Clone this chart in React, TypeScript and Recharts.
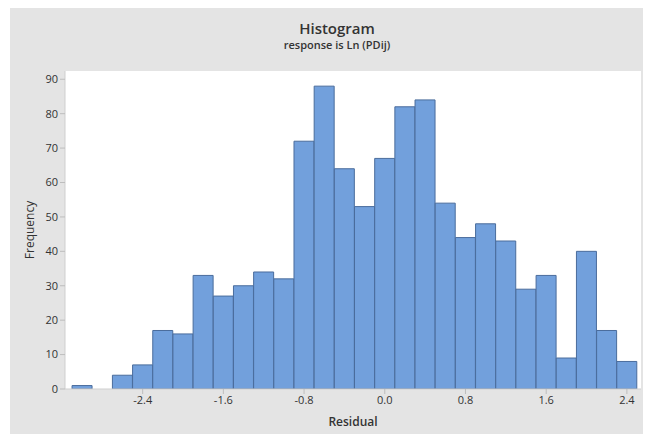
import React from "react";
import { Bar, BarChart, CartesianGrid, XAxis, YAxis } from "recharts";

const binMids = [
  -3.0, -2.8, -2.6, -2.4, -2.2, -2.0, -1.8, -1.6, -1.4, -1.2, -1.0, -0.8, -0.6, -0.4,
  -0.2, 0.0, 0.2, 0.4, 0.6, 0.8, 1.0, 1.2, 1.4, 1.6, 1.8, 2.0, 2.2, 2.4,
];
const frequencies = [
  1, 0, 4, 7, 17, 16, 33, 27, 30, 34, 32, 72, 88, 64,
  53, 67, 82, 84, 54, 44, 48, 43, 29, 33, 9, 40, 17, 8,
];
const xTicks = [-2.4, -1.6, -0.8, 0.0, 0.8, 1.6, 2.4];
const yTicks = [0, 10, 20, 30, 40, 50, 60, 70, 80, 90];

const data = binMids.map((mid, i) => ({ mid, count: frequencies[i] }));

const FONT = "'Open Sans', 'Noto Sans', sans-serif";

export default function App() {
  return (
    <div style={{ position: "relative", width: 651, height: 434, margin: "-8px 0 0 -8px", background: "#fff", fontFamily: FONT }}>
      <div style={{ position: "absolute", left: 10, top: 7, width: 641, height: 427, background: "#e4e4e4" }}>
        <div style={{ position: "absolute", left: 0, width: 654, top: 12, lineHeight: "18px", textAlign: "center", fontSize: 15, fontWeight: 600, color: "#333" }}>
          Histogram
        </div>
        <div style={{ position: "absolute", left: 0, width: 654, top: 31, lineHeight: "14px", textAlign: "center", fontSize: 11, fontWeight: 600, color: "#333" }}>
          response is Ln (PDij)
        </div>
        <BarChart
          width={641}
          height={427}
          data={data}
          margin={{ top: 64, right: 10, bottom: 0, left: 0 }}
          barCategoryGap={0}
          barGap={0}
        >
          <CartesianGrid fill="#ffffff" stroke="transparent" />
          <XAxis
            type="number"
            dataKey="mid"
            domain={[-3.17, 2.54]}
            ticks={xTicks}
            tickFormatter={(v: number) => v.toFixed(1)}
            allowDataOverflow
            tick={{ fontSize: 11, fill: "#333" }}
            axisLine={{ stroke: "#cfcfcf" }}
            tickLine={{ stroke: "#bdbdbd" }}
            tickSize={5}
            height={45}
            label={{ value: "Residual", position: "insideBottom", offset: 8, fontSize: 12, fontWeight: 600, fill: "#333" }}
          />
          <YAxis
            type="number"
            domain={[0, 92.4]}
            ticks={yTicks}
            allowDataOverflow
            tick={{ fontSize: 11, fill: "#333" }}
            axisLine={{ stroke: "#cfcfcf" }}
            tickLine={{ stroke: "#bdbdbd" }}
            tickSize={5}
            width={55}
            label={{ value: "Frequency", angle: -90, position: "insideLeft", offset: 20, fontSize: 12, fill: "#333", style: { textAnchor: "middle" } }}
          />
          <Bar dataKey="count" fill="#72a0dc" stroke="#4a6c9c" strokeWidth={1} isAnimationActive={false} />
        </BarChart>
      </div>
    </div>
  );
}
